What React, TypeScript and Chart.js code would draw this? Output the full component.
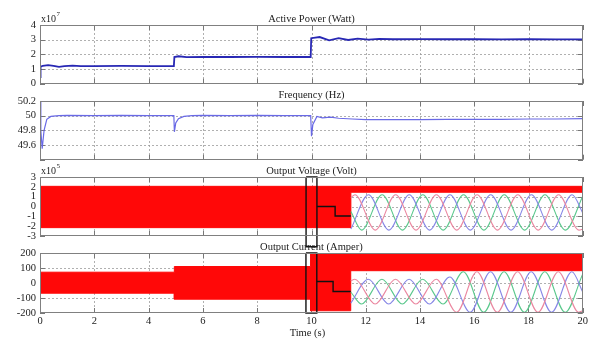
import React, { useEffect, useRef } from 'react';
import { Chart, registerables } from 'chart.js';

Chart.register(...registerables);

const FONT = '"Liberation Serif", "Times New Roman", serif';

// ---- tick labels ----
const xTicks = [0, 2, 4, 6, 8, 10, 12, 14, 16, 18, 20];
const powerTicks = [0, 1, 2, 3, 4];
const freqTicks = [49.4, 49.6, 49.8, 50, 50.2];
const freqHiddenLabels = [49.4];
const voltTicks = [-3, -2, -1, 0, 1, 2, 3];
const currTicks = [-200, -100, 0, 100, 200];

// ---- Active power (x10^7 W) ----
const powerTimes = [0, 0.02, 0.1, 0.3, 0.5, 0.7, 0.9, 1.2, 1.5, 2, 3, 4, 4.93, 4.95, 5.1, 5.4, 6, 7, 8, 9, 9.97, 9.99, 10.3, 10.65, 11.0, 11.35, 11.7, 12.1, 12.5, 13, 14, 15, 16, 17, 18, 19, 20];
const powerValues = [0.45, 1.15, 1.22, 1.26, 1.22, 1.15, 1.2, 1.23, 1.2, 1.2, 1.21, 1.2, 1.2, 1.82, 1.87, 1.81, 1.83, 1.82, 1.83, 1.82, 1.82, 3.1, 3.18, 2.95, 3.1, 2.98, 3.07, 3.0, 3.05, 3.03, 3.04, 3.03, 3.03, 3.02, 3.03, 3.02, 3.02];

// ---- Frequency (Hz) ----
const freqTimes = [0, 0.03, 0.08, 0.15, 0.25, 0.4, 0.7, 1, 2, 3, 4, 4.93, 4.95, 5.0, 5.1, 5.3, 5.6, 6, 7, 8, 9, 9.97, 10.0, 10.05, 10.2, 10.4, 10.7, 11, 11.5, 12, 13, 14, 15, 16, 17, 18, 19, 20];
const freqValues = [50.2, 49.8, 49.55, 49.8, 49.95, 49.99, 50.0, 50.005, 50.0, 50.005, 50.0, 50.0, 49.78, 49.9, 49.96, 49.99, 50.0, 50.005, 50.0, 50.005, 50.0, 50.0, 49.72, 49.88, 49.99, 49.97, 49.98, 49.965, 49.955, 49.945, 49.945, 49.945, 49.95, 49.95, 49.95, 49.955, 49.955, 49.96];

// ---- Output voltage envelope (x10^5 V) ----
const voltBandTimes = [0, 11.45, 11.45, 20];
const voltBandUpper = [2.05, 2.05, 2.05, 2.05];
const voltBandLower = [-2.15, -2.15, 1.45, 1.45];

// ---- Output current envelope (A) ----
const currBandTimes = [0, 4.95, 4.95, 9.97, 9.97, 11.45, 11.45, 20];
const currBandUpper = [72, 72, 110, 110, 195, 195, 195, 195];
const currBandLower = [-68, -68, -108, -108, -185, -185, 82, 82];

// ---- Zoomed three-phase waveforms (extrema) ----
const phaseATimes = [11.45, 11.6, 12.35, 13.1, 13.85, 14.6, 15.35, 16.1, 16.85, 17.6, 18.35, 19.1, 19.85, 20];
const phaseBTimes = [11.45, 12.1, 12.85, 13.6, 14.35, 15.1, 15.85, 16.6, 17.35, 18.1, 18.85, 19.6, 20];
const phaseCTimes = [11.45, 11.85, 12.6, 13.35, 14.1, 14.85, 15.6, 16.35, 17.1, 17.85, 18.6, 19.35, 20];
const voltA = [0.9, 1.2, -2.4, 1.2, -2.4, 1.2, -2.4, 1.2, -2.4, 1.2, -2.4, 1.2, -2.4, -2.3];
const voltB = [-2.3, 1.2, -2.4, 1.2, -2.4, 1.2, -2.4, 1.2, -2.4, 1.2, -2.4, 1.2, -0.7];
const voltC = [-0.5, -2.4, 1.2, -2.4, 1.2, -2.4, 1.2, -2.4, 1.2, -2.4, 1.2, -2.4, 1.1];
const currA = [15, 25, -140, 25, -140, 25, -195, 75, -195, 75, -195, 75, -195, -185];
const currB = [-135, 25, -140, 25, -140, 40, -195, 75, -195, 75, -195, 75, -60];
const currC = [-60, -140, 25, -140, 25, -140, 75, -195, 75, -195, 75, -195, 60];

// ---- zoom indicator ----
const zoomBoxTimes = [9.8, 10.2, 10.2, 9.8, 9.8];
const voltBoxValues = [3, 3, -4.1, -4.1, 3];
const currBoxValues = [200, 200, -200, -200, 200];
const voltConnTimes = [10.2, 10.87, 10.87, 11.45];
const voltConnValues = [0, 0, -0.97, -0.97];
const currConnTimes = [10.2, 10.8, 10.8, 11.45];
const currConnValues = [10, 10, -57, -57];

const RED = '#ff0808';
const PINK = 'rgb(235,135,160)';
const BLUE = 'rgb(135,135,230)';
const GREEN = 'rgb(90,200,140)';

const pts = (t: number[], v: number[]) => t.map((x, i) => ({ x, y: v[i] }));

const line = (t: number[], v: number[], color: string, width: number, order: number, extra: any = {}) => ({
  data: pts(t, v),
  borderColor: color,
  borderWidth: width,
  pointRadius: 0,
  fill: false,
  tension: 0,
  order,
  ...extra,
});

const bandSets = (t: number[], up: number[], lo: number[]) => [
  line(t, up, RED, 1, 20, { fill: '+1', backgroundColor: RED }),
  line(t, lo, RED, 1, 21),
];

const sine = (t: number[], v: number[], color: string) =>
  line(t, v, color, 1.1, 5, { cubicInterpolationMode: 'monotone' });

const decoPlugin = {
  id: 'deco',
  beforeDatasetsDraw(chart: any, _a: any, opts: any) {
    const { ctx, chartArea: a, scales } = chart;
    const xs = scales.x, ys = scales.y;
    ctx.save();
    ctx.strokeStyle = 'rgba(150,150,150,0.75)';
    ctx.lineWidth = 1;
    ctx.setLineDash([2, 2]);
    for (const v of xTicks) {
      const px = Math.round(xs.getPixelForValue(v)) + 0.5;
      if (px <= a.left + 1 || px >= a.right - 1) continue;
      ctx.beginPath(); ctx.moveTo(px, a.top); ctx.lineTo(px, a.bottom); ctx.stroke();
    }
    for (const v of opts.yTicks) {
      const py = Math.round(ys.getPixelForValue(v)) + 0.5;
      if (py <= a.top + 1 || py >= a.bottom - 1) continue;
      ctx.beginPath(); ctx.moveTo(a.left, py); ctx.lineTo(a.right, py); ctx.stroke();
    }
    ctx.setLineDash([]);
    ctx.strokeStyle = '#777';
    const L = 5;
    for (const v of xTicks) {
      const px = Math.round(xs.getPixelForValue(v)) + 0.5;
      ctx.beginPath();
      ctx.moveTo(px, a.top); ctx.lineTo(px, a.top + L);
      ctx.moveTo(px, a.bottom); ctx.lineTo(px, a.bottom - L);
      ctx.stroke();
    }
    for (const v of opts.yTicks) {
      const py = Math.round(ys.getPixelForValue(v)) + 0.5;
      ctx.beginPath();
      ctx.moveTo(a.left, py); ctx.lineTo(a.left + L, py);
      ctx.moveTo(a.right, py); ctx.lineTo(a.right - L, py);
      ctx.stroke();
    }
    ctx.restore();
  },
  afterDatasetsDraw(chart: any, _a: any, opts: any) {
    const { ctx, chartArea: a } = chart;
    ctx.save();
    ctx.strokeStyle = '#808080';
    ctx.lineWidth = 1;
    ctx.strokeRect(Math.round(a.left) + 0.5, Math.round(a.top) + 0.5, Math.round(a.width) - 1, Math.round(a.height) - 1);
    ctx.fillStyle = '#222';
    ctx.font = `10.5px ${FONT}`;
    ctx.textAlign = 'center';
    ctx.textBaseline = 'middle';
    ctx.fillText(opts.title, (a.left + a.right) / 2, a.top - 6);
    if (opts.exponent) {
      ctx.textAlign = 'left';
      ctx.font = `10px ${FONT}`;
      ctx.fillText('x10', a.left + 1, a.top - 6);
      const w = ctx.measureText('x10').width;
      ctx.font = `7px ${FONT}`;
      ctx.fillText(opts.exponent, a.left + 1.5 + w, a.top - 11);
    }
    if (opts.xLabel) {
      ctx.textAlign = 'center';
      ctx.font = `10.5px ${FONT}`;
      ctx.fillText(opts.xLabel, (a.left + a.right) / 2 - 4, a.bottom + 20);
    }
    ctx.restore();
  },
};

type Spec = {
  top: number; height: number; padTop: number; padBottom: number; xHeight: number;
  yMin: number; yMax: number; yTicks: number[]; hidden?: number[];
  title: string; exponent?: string; xLabel?: string; showX: boolean; datasets: any[];
};

const specs: Spec[] = [
  {
    top: 0, height: 94, padTop: 25, padBottom: 8, xHeight: 0, yMin: 0, yMax: 4, yTicks: powerTicks,
    title: 'Active Power (Watt)', exponent: '7', showX: false,
    datasets: [line(powerTimes, powerValues, 'rgb(40,40,180)', 1.8, 1)],
  },
  {
    top: 88, height: 82, padTop: 13, padBottom: 8, xHeight: 0, yMin: 49.4, yMax: 50.2, yTicks: freqTicks, hidden: freqHiddenLabels,
    title: 'Frequency (Hz)', showX: false,
    datasets: [line(freqTimes, freqValues, 'rgb(105,105,230)', 1.2, 1)],
  },
  {
    top: 164, height: 90, padTop: 13, padBottom: 18, xHeight: 0, yMin: -3, yMax: 3, yTicks: voltTicks,
    title: 'Output Voltage (Volt)', exponent: '5', showX: false,
    datasets: [
      ...bandSets(voltBandTimes, voltBandUpper, voltBandLower),
      sine(phaseATimes, voltA, PINK),
      sine(phaseBTimes, voltB, BLUE),
      sine(phaseCTimes, voltC, GREEN),
      line(voltConnTimes, voltConnValues, '#111', 1.4, 1),
      line(zoomBoxTimes, voltBoxValues, '#111', 1.4, 0, { clip: false }),
    ],
  },
  {
    top: 240, height: 100, padTop: 13, padBottom: 9, xHeight: 18, yMin: -200, yMax: 200, yTicks: currTicks,
    title: 'Output Current (Amper)', xLabel: 'Time (s)', showX: true,
    datasets: [
      ...bandSets(currBandTimes, currBandUpper, currBandLower),
      sine(phaseATimes, currA, PINK),
      sine(phaseBTimes, currB, BLUE),
      sine(phaseCTimes, currC, GREEN),
      line(currConnTimes, currConnValues, '#111', 1.4, 1),
      line(zoomBoxTimes, currBoxValues, '#111', 1.4, 0, { clip: false }),
    ],
  },
];

function buildConfig(s: Spec): any {
  const tickFont = { family: FONT, size: 10.5 };
  return {
    type: 'line',
    data: { datasets: s.datasets },
    plugins: [decoPlugin],
    options: {
      responsive: false,
      animation: false,
      events: [],
      layout: { padding: { top: s.padTop, bottom: s.padBottom, left: 0, right: 7 } },
      plugins: {
        legend: { display: false },
        tooltip: { enabled: false },
        deco: { title: s.title, exponent: s.exponent, xLabel: s.xLabel, yTicks: s.yTicks },
      },
      scales: {
        x: {
          type: 'linear', min: 0, max: 20,
          grid: { display: false, drawTicks: false },
          border: { display: false },
          ticks: { display: s.showX, padding: 2, font: tickFont, color: '#222', maxRotation: 0, autoSkip: false },
          afterBuildTicks: (sc: any) => { sc.ticks = xTicks.map((v) => ({ value: v })); },
          afterFit: (sc: any) => { sc.height = s.xHeight; },
        },
        y: {
          type: 'linear', min: s.yMin, max: s.yMax,
          grid: { display: false, drawTicks: false },
          border: { display: false },
          ticks: {
            padding: 4, font: tickFont, color: '#222', autoSkip: false,
            callback: (v: number) => ((s.hidden || []).includes(v) ? '' : String(v)),
          },
          afterBuildTicks: (sc: any) => { sc.ticks = s.yTicks.map((v) => ({ value: v })); },
          afterFit: (sc: any) => { sc.width = 40; },
        },
      },
    },
  };
}

function Panel({ spec }: { spec: Spec }) {
  const ref = useRef<HTMLCanvasElement>(null);
  useEffect(() => {
    const chart = new Chart(ref.current as HTMLCanvasElement, buildConfig(spec));
    return () => chart.destroy();
  }, [spec]);
  return (
    <canvas
      ref={ref}
      width={590}
      height={spec.height}
      style={{ position: 'absolute', left: 0, top: spec.top, width: 590, height: spec.height }}
    />
  );
}

export default function App() {
  return (
    <div style={{ position: 'fixed', left: 0, top: 0, width: 590, height: 340, background: '#fff', overflow: 'hidden' }}>
      {specs.map((s, i) => (
        <Panel key={i} spec={s} />
      ))}
    </div>
  );
}
